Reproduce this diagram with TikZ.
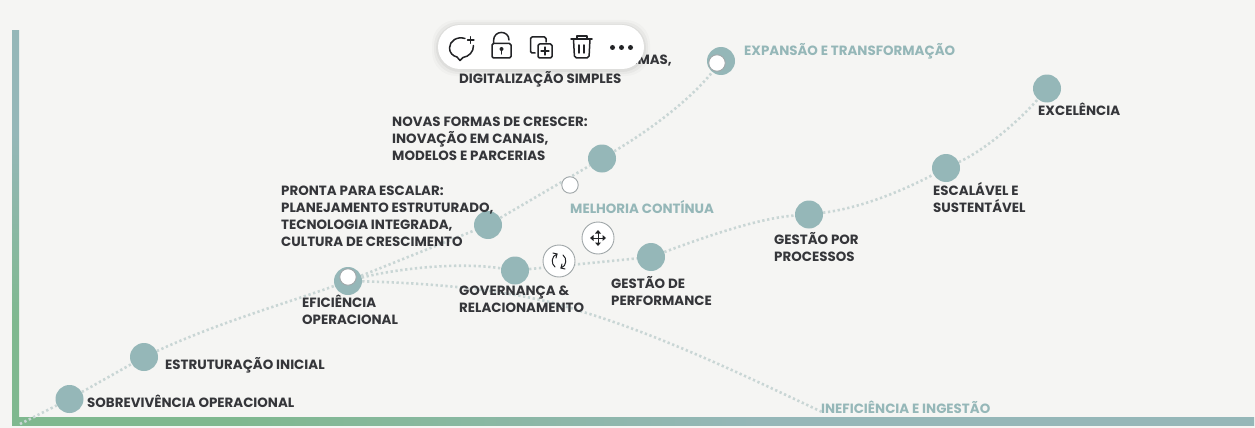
\documentclass[tikz,border=0pt]{standalone}
\usepackage{fontspec}
\setmainfont{Poppins}
\usetikzlibrary{calc}
\definecolor{bg}{HTML}{F5F5F3}
\definecolor{teal}{HTML}{95B7B8}
\definecolor{agreen}{HTML}{7FB88F}
\definecolor{dots}{HTML}{C9D6D5}
\definecolor{ink}{HTML}{35363A}
\definecolor{icon}{HTML}{222326}
\definecolor{handle}{HTML}{A0A7A9}
\pgfdeclarehorizontalshading{axh}{100bp}{color(0bp)=(agreen); color(34bp)=(agreen); color(55bp)=(teal); color(100bp)=(teal)}
\pgfdeclareverticalshading{axv}{100bp}{color(0bp)=(agreen); color(38bp)=(agreen); color(62bp)=(teal); color(100bp)=(teal)}
\tikzset{
  x=1pt,y=-1pt,
  stage/.style={circle,fill=teal,draw=none,minimum size=28pt,inner sep=0pt},
  smallh/.style={circle,fill=white,draw=handle,line width=.9pt,minimum size=16.5pt,inner sep=0pt},
  bigh/.style={circle,fill=white,draw=handle,line width=.9pt,minimum size=32pt,inner sep=0pt},
  path dots/.style={draw=dots,line width=2.6pt,dash pattern=on 2.3pt off 2.6pt},
  lab/.style={anchor=north west,inner sep=0pt,align=left,text=ink,font=\fontsize{13.4}{17}\selectfont\bfseries},
  phase/.style={anchor=north west,inner sep=0pt,text=teal,font=\fontsize{13.4}{17}\selectfont\bfseries},
  ic/.style={draw=icon,line width=1.5pt,line join=round,line cap=round},
}
\begin{document}
\begin{tikzpicture}
\useasboundingbox (0,0) rectangle (1255,428);
\fill[bg] (0,0) rectangle (1255,428);
% axes
\shade[shading=axv] (12,31) rectangle (19,425);
\shade[shading=axh] (12,417) rectangle (1254,425);
% stages
\coordinate (o) at (20,424);
\node[stage] (a) at (69.5,399) {};
\node[stage] (b) at (144,357) {};
\node[stage] (c) at (348,281) {};
\node[stage] (d) at (488,225) {};
\node[stage] (e) at (602,158.5) {};
\node[stage] (f) at (721,61) {};
\node[stage] (g) at (515,270.5) {};
\node[stage] (h) at (651,257) {};
\node[stage] (i) at (809,214.5) {};
\node[stage] (j) at (946,168) {};
\node[stage] (k) at (1047,88.5) {};
\coordinate (m) at (580,311);
\coordinate (z) at (822,412);
% connectors
\path[path dots] (o) -- (a);
\path[path dots] (a) -- (b);
\path[path dots] (b) .. controls (220,322) and (290,302) .. (c);
\path[path dots] (c) -- (d);
\path[path dots] (d) -- (e);
\path[path dots] (e) .. controls (650,130) and (690,100) .. (f);
\path[path dots] (c) .. controls (400,268) and (460,262) .. (g);
\path[path dots] (g) -- (h);
\path[path dots] (h) .. controls (710,235) and (760,218) .. (i);
\path[path dots] (i) .. controls (860,208) and (900,192) .. (j);
\path[path dots] (j) .. controls (985,150) and (1020,120) .. (k);
\path[path dots] (c) .. controls (430,283) and (520,290) .. (m);
\path[path dots] (m) .. controls (660,335) and (750,378) .. (z);
% handles
\node[smallh] (h1) at (348,277) {};
\node[smallh] (h2) at (570,185) {};
\node[smallh] (h3) at (717,63) {};
% labels
\node[lab] (l1) at (87,394.5) {SOBREVIVÊNCIA OPERACIONAL};
\node[lab] (l2) at (165,357) {ESTRUTURAÇÃO INICIAL};
\node[lab] (l3) at (302,295) {EFICIÊNCIA\\OPERACIONAL};
\node[lab] (l4) at (281,186) {PRONTA PARA ESCALAR:\\PLANEJAMENTO ESTRUTURADO,\\TECNOLOGIA INTEGRADA,\\CULTURA DE CRESCIMENTO};
\node[lab] (l5) at (392,116.5) {NOVAS FORMAS DE CRESCER:\\INOVAÇÃO EM CANAIS,\\MODELOS E PARCERIAS};
\node[lab,anchor=north east] (l6a) at (672,55) {EMAS,};
\node[lab] (l6) at (459,71) {DIGITALIZAÇÃO SIMPLES};
\node[lab] (l7) at (459,285.5) {GOVERNANÇA \&\\RELACIONAMENTO};
\node[lab] (l8) at (611,276) {GESTÃO DE\\PERFORMANCE};
\node[lab] (l9) at (774,232) {GESTÃO POR\\PROCESSOS};
\node[lab] (l10) at (933,182.5) {ESCALÁVEL E\\SUSTENTÁVEL};
\node[lab] (l11) at (1038,102.5) {EXCELÊNCIA};
\node[phase] (p1) at (744,43) {EXPANSÃO E TRANSFORMAÇÃO};
\node[phase] (p2) at (570,200.5) {MELHORIA CONTÍNUA};
\node[phase] (p3) at (821,400.5) {INEFICIÊNCIA E INGESTÃO};
% round handles
\node[bigh] (rot) at (559,261) {};
\node[bigh] (mov) at (598,238) {};
% rotate icon
\begin{scope}[shift={(559,261)}]
  \draw[icon,line width=1pt,line cap=round] (-2,-7) .. controls (-8,-5) and (-8,3) .. (-4,6);
  \draw[icon,line width=1pt,line cap=round] (2,7) .. controls (8,5) and (8,-3) .. (4,-6);
  \draw[icon,line width=1pt,line cap=round] (-6,-8) -- (-2,-7) -- (-3,-3);
  \draw[icon,line width=1pt,line cap=round] (6,8) -- (2,7) -- (3,3);
\end{scope}
% move icon
\begin{scope}[shift={(598,238)}]
  \draw[icon,line width=1pt] (-7,0) -- (7,0) (0,-7) -- (0,7);
  \fill[icon] (-8,0) -- (-4.5,-3) -- (-4.5,3) -- cycle;
  \fill[icon] (8,0) -- (4.5,-3) -- (4.5,3) -- cycle;
  \fill[icon] (0,-8) -- (-3,-4.5) -- (3,-4.5) -- cycle;
  \fill[icon] (0,8) -- (-3,4.5) -- (3,4.5) -- cycle;
\end{scope}
% toolbar
\foreach \g/\op in {6/.02,4/.03,2/.04}
  \fill[black,opacity=\op,rounded corners=24pt] (438-\g,25-\g+1) rectangle (644+\g,69+\g+1);
\fill[white,rounded corners=22pt] (438,25) rectangle (644,69);
% comment icon
\draw[ic] (465,38.5) .. controls (457,36) and (449.5,41) .. (449.5,48) .. controls (449.5,53) and (453,56) .. (457,57) -- (460,60.5) -- (463,57.5) .. controls (469,56.5) and (473.5,52) .. (473.5,45.5);
\draw[ic,line width=1.3pt] (467.5,40) -- (474,40) (470.7,36.7) -- (470.7,43.3);
% lock icon
\draw[ic,rounded corners=1.5pt] (492,43.5) rectangle (511,58);
\draw[ic] (493.5,43.5) -- (493.5,41) .. controls (493.5,29.5) and (509,30) .. (509,40);
\fill[icon] (501.5,49) circle (2);
\draw[ic] (501.5,49) -- (501.5,54);
% copy icon
\draw[ic,rounded corners=1.5pt] (535,53) -- (530.5,53) -- (530.5,37) -- (546,37) -- (546,42);
\draw[ic,rounded corners=1.5pt] (538,44) rectangle (552,58);
\draw[ic,line width=1.2pt] (545,47) -- (545,55) (541,51) -- (549,51);
% trash icon
\draw[ic] (571,39) -- (592,39);
\draw[ic] (577,39) -- (577,36) -- (587,36) -- (587,39);
\draw[ic,rounded corners=2pt] (573.5,39) -- (574.5,58) -- (589,58) -- (590,39);
\draw[ic] (579,45) -- (579,53) (584,45) -- (584,53);
% dots
\fill[icon] (612.5,47.5) circle (2.5) (621.5,47.5) circle (2.5) (630.5,47.5) circle (2.5);
\end{tikzpicture}
\end{document}
